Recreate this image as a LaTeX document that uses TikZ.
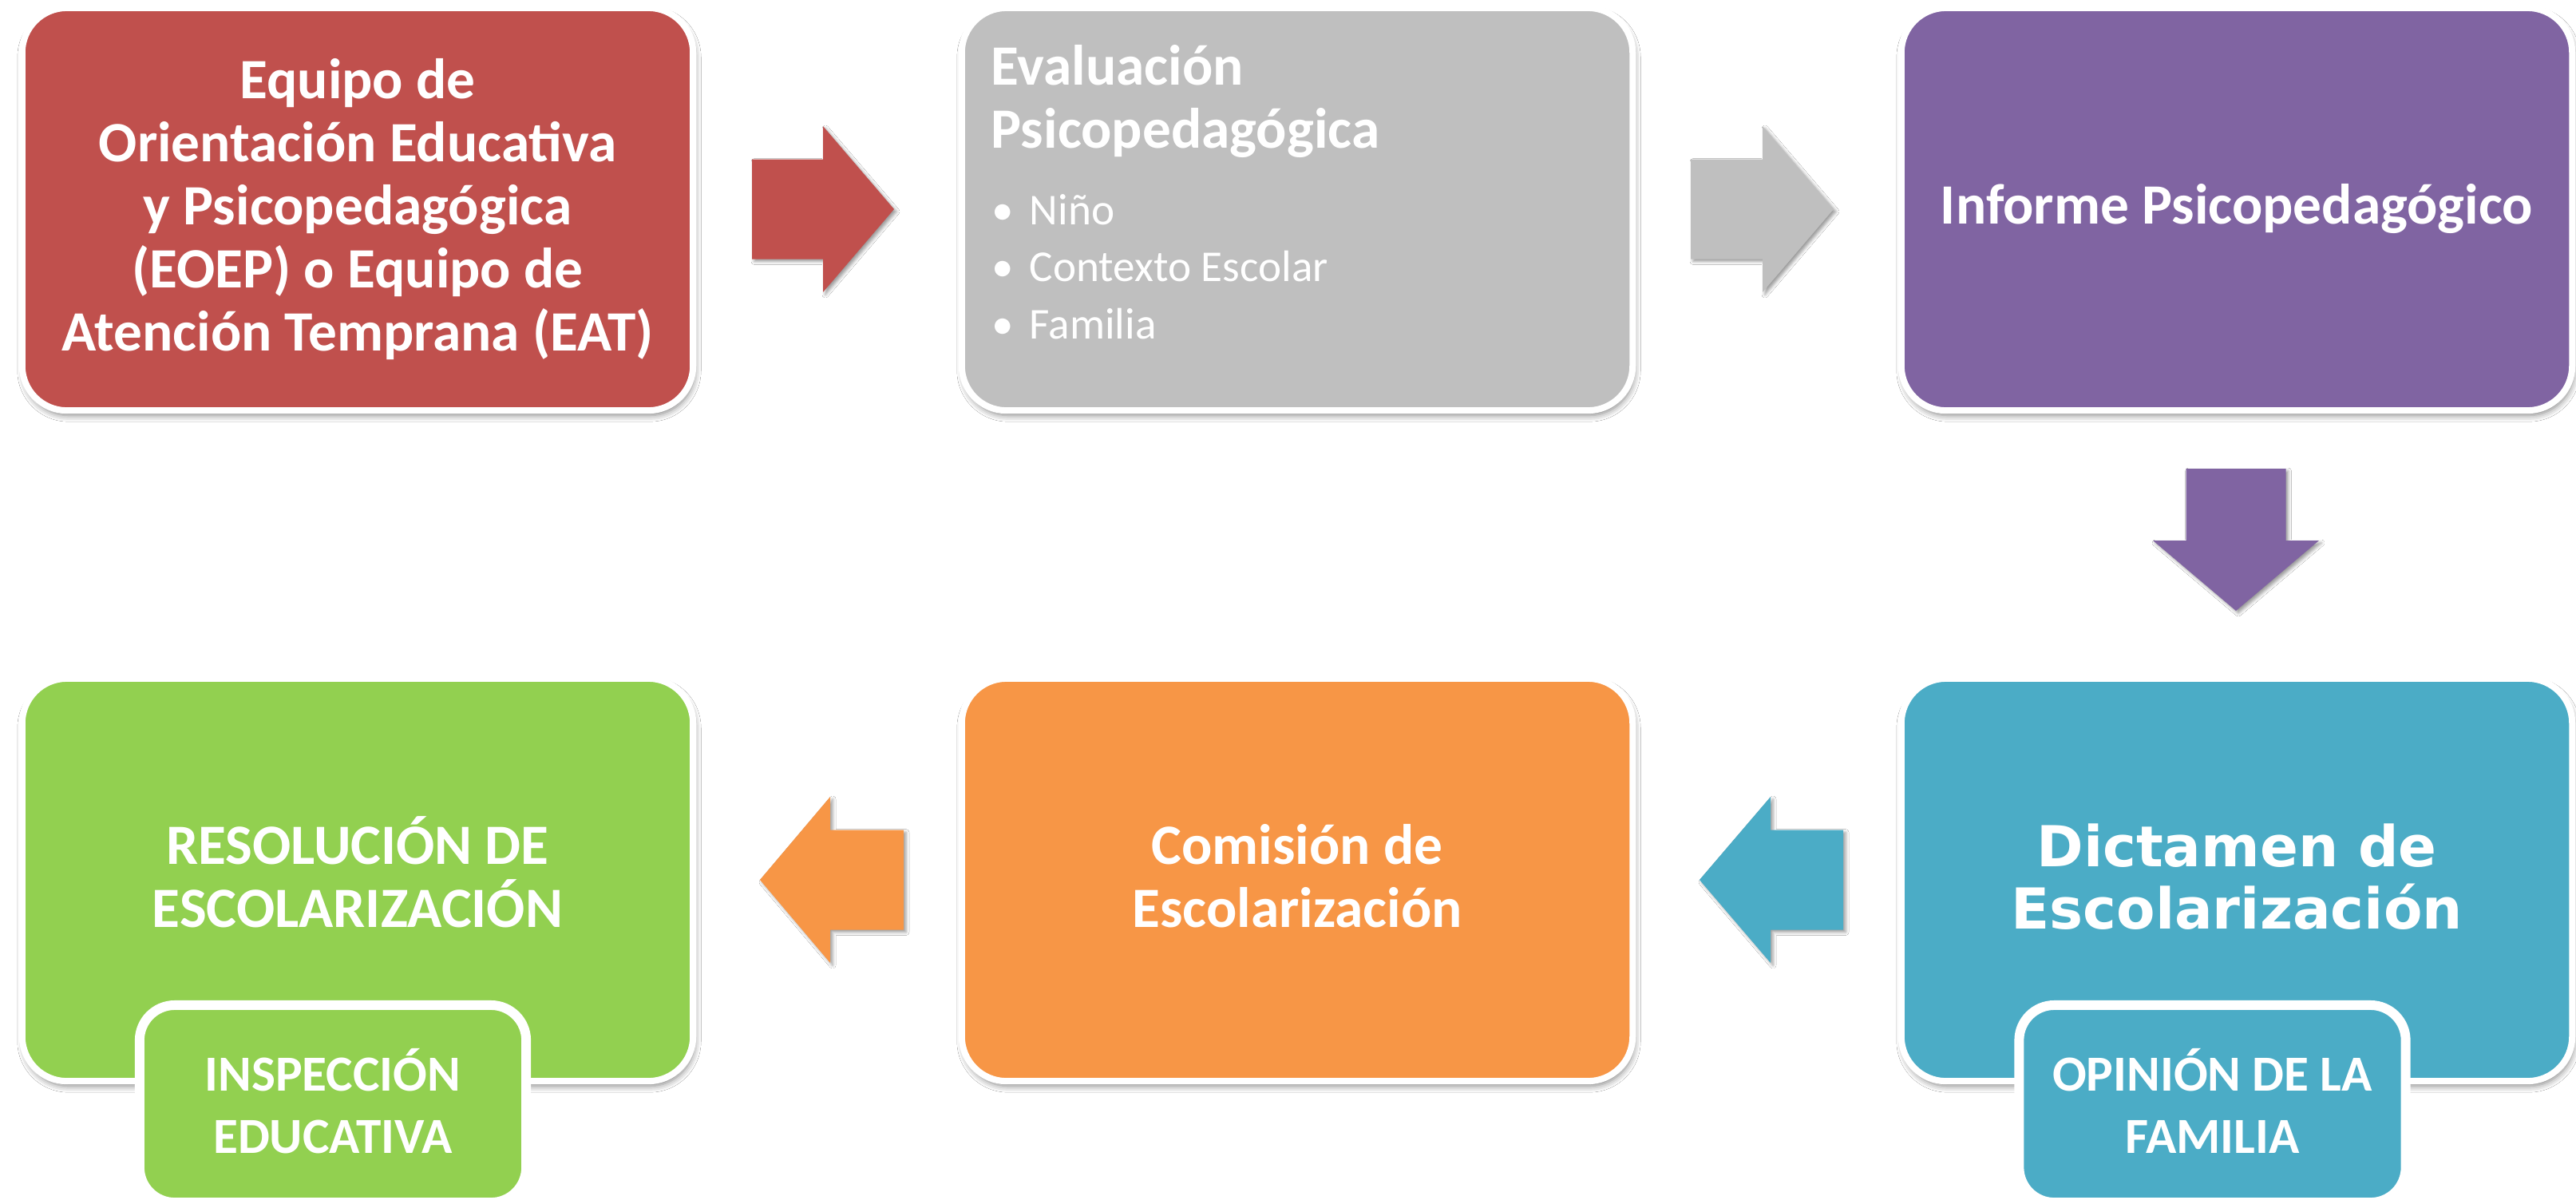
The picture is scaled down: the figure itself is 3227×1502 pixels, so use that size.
\documentclass[tikz,border=0pt]{standalone}
\usepackage{fontspec}
\setmainfont{Carlito}
\newfontfamily\dvsans{DejaVu Sans}
\usetikzlibrary{shadows.blur}
\definecolor{cred}{HTML}{C0504D}
\definecolor{cgrey}{HTML}{BFBFBF}
\definecolor{cpurple}{HTML}{8064A2}
\definecolor{cgreen}{HTML}{92D050}
\definecolor{corange}{HTML}{F79646}
\definecolor{cblue}{HTML}{4BACC6}
\tikzset{
  mainbox/.style={rectangle, rounded corners=0.56cm, draw=white, line width=2.28pt,
    minimum width=8.4cm, minimum height=5.04cm, inner sep=0pt, outer sep=0pt,
    blur shadow={shadow xshift=0.02cm, shadow yshift=-0.06cm, shadow blur radius=0.08cm, shadow opacity=50}},
  subbox/.style={rectangle, rounded corners=0.44cm, draw=white, line width=3.4pt,
    minimum width=4.84cm, minimum height=2.47cm, inner sep=0pt, outer sep=0pt},
  blockarrow/.style={blur shadow={shadow xshift=0.03cm, shadow yshift=-0.03cm, shadow blur radius=0.04cm, shadow opacity=40}},
  ttl/.style={text=white, font=\fontsize{20.3pt}{24pt}\selectfont\bfseries, inner sep=0pt, anchor=base},
  bigttl/.style={text=white, font=\dvsans\fontsize{20.1pt}{24pt}\selectfont\bfseries, inner sep=0pt, anchor=base},
  subttl/.style={text=white, font=\fontsize{18pt}{22pt}\selectfont\bfseries, inner sep=0pt, anchor=base},
  bul/.style={text=white, font=\fontsize{15.7pt}{19pt}\selectfont, inner sep=0pt, anchor=base west},
}
\begin{document}
\begin{tikzpicture}[x=0.01cm, y=-0.01cm]
\useasboundingbox (0,0) rectangle (3227,1502);
\fill[white] (0,0) rectangle (3227,1502);

% top row boxes
\node[mainbox, fill=cred] (b1) at (448,262) {};
\node[mainbox, fill=cgrey] (b2) at (1625,262) {};
\node[mainbox, fill=cpurple] (b3) at (2802,262) {};
% bottom row boxes
\node[mainbox, fill=cgreen] (b6) at (448,1102) {};
\node[mainbox, fill=corange] (b5) at (1625,1102) {};
\node[mainbox, fill=cblue] (b4) at (2802,1102) {};
% sub boxes
\node[subbox, fill=cgreen] (s6) at (417,1382.5) {};
\node[subbox, fill=cblue] (s4) at (2771.5,1382.5) {};

% block arrows
\fill[cred, blockarrow] (942,199.5) -- (1031,199.5) -- (1031,158) -- (1120,262) -- (1031,366) -- (1031,324.5) -- (942,324.5) -- cycle;
\fill[cgrey, blockarrow] (2118,199.5) -- (2208,199.5) -- (2208,158) -- (2297,262) -- (2208,366) -- (2208,324.5) -- (2118,324.5) -- cycle;
\fill[cpurple, blockarrow] (2738.5,587) -- (2863.5,587) -- (2863.5,677) -- (2905,677) -- (2801,765) -- (2697,677) -- (2738.5,677) -- cycle;
\fill[cblue, blockarrow] (2309,1039.5) -- (2218,1039.5) -- (2218,998) -- (2129,1102) -- (2218,1206) -- (2218,1164.5) -- (2309,1164.5) -- cycle;
\fill[corange, blockarrow] (1132,1039.5) -- (1040,1039.5) -- (1040,998) -- (952,1102) -- (1040,1206) -- (1040,1164.5) -- (1132,1164.5) -- cycle;

% texts: red box
\node[ttl] (t1a) at (448,123) {Equipo de};
\node[ttl] (t1b) at (448,202) {Orientación Educativa};
\node[ttl] (t1c) at (448,281) {y Psicopedagógica};
\node[ttl] (t1d) at (448,360) {(EOEP) o Equipo de};
\node[ttl] (t1e) at (448,439) {Atención Temprana (EAT)};
% grey box
\node[ttl, anchor=base west] (t2a) at (1241,106) {Evaluación};
\node[ttl, anchor=base west] (t2b) at (1241,185) {Psicopedagógica};
\node[bul] (t2c) at (1242,281) {•};
\node[bul] (t2d) at (1289,281) {Niño};
\node[bul] (t2e) at (1242,352) {•};
\node[bul] (t2f) at (1289,352) {Contexto Escolar};
\node[bul] (t2g) at (1242,424) {•};
\node[bul] (t2h) at (1289,424) {Familia};
% purple box
\node[ttl] (t3a) at (2802,280) {Informe Psicopedagógico};
% blue box
\node[bigttl] (t4a) at (2802,1085) {Dictamen de};
\node[bigttl] (t4b) at (2802,1163) {Escolarización};
\node[subttl] (t4c) at (2771.5,1366) {OPINIÓN DE LA};
\node[subttl] (t4d) at (2771.5,1444) {FAMILIA};
% orange box
\node[ttl] (t5a) at (1625,1082) {Comisión de};
\node[ttl] (t5b) at (1625,1161) {Escolarización};
% green box
\node[ttl] (t6a) at (448,1082) {RESOLUCIÓN DE};
\node[ttl] (t6b) at (448,1161) {ESCOLARIZACIÓN};
\node[subttl] (t6c) at (417,1366) {INSPECCIÓN};
\node[subttl] (t6d) at (417,1444) {EDUCATIVA};
\end{tikzpicture}
\end{document}
